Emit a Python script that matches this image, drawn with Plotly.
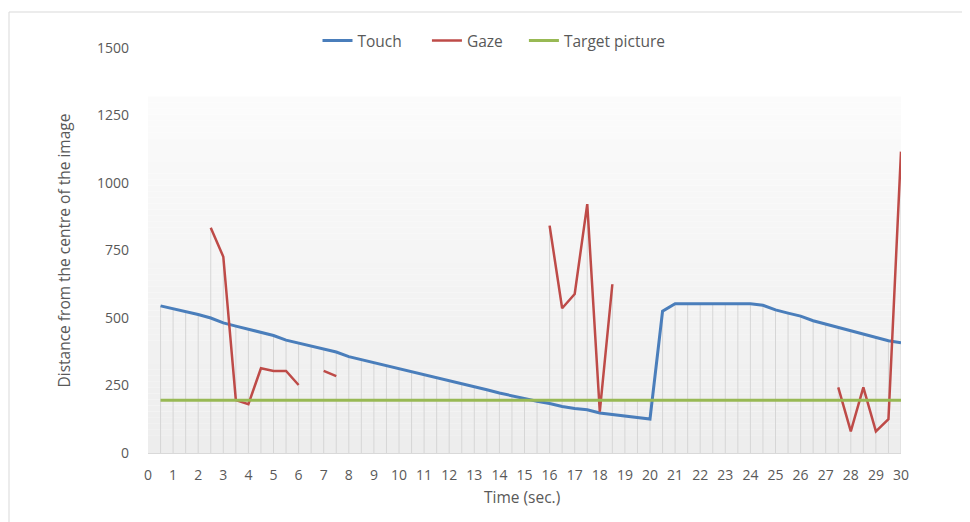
import plotly.graph_objects as go

time_s = [0.5, 1, 1.5, 2, 2.5, 3, 3.5, 4, 4.5, 5, 5.5, 6, 6.5, 7, 7.5, 8, 8.5, 9, 9.5, 10,
          10.5, 11, 11.5, 12, 12.5, 13, 13.5, 14, 14.5, 15, 15.5, 16, 16.5, 17, 17.5, 18, 18.5, 19, 19.5, 20,
          20.5, 21, 21.5, 22, 22.5, 23, 23.5, 24, 24.5, 25, 25.5, 26, 26.5, 27, 27.5, 28, 28.5, 29, 29.5, 30]

touch = [545, 535, 524, 513, 500, 482, 470, 458, 446, 435, 418, 407, 397, 386, 374, 357, 346, 335, 324, 313,
         302, 291, 279, 268, 257, 245, 234, 222, 212, 200, 192, 183, 172, 165, 160, 148, 142, 137, 130, 126,
         525, 553, 553, 553, 553, 553, 553, 553, 547, 530, 518, 507, 490, 478, 465, 453, 442, 430, 416, 408]

gaze = [None, None, None, None, 834, 727, 196, 181, 314, 304, 304, 252, None, 304, 285, None, None, None, None, None,
        None, None, None, None, None, None, None, None, None, None, None, 842, 536, 589, 922, 153, 625, None, None, None,
        None, None, None, None, None, None, None, None, None, None, None, None, None, None, 243, 80, 243, 80, 125, 1116]

target = [195] * 60

series_names = ["Touch", "Gaze", "Target picture"]
y_ticks = [0, 250, 500, 750, 1000, 1250, 1500]
x_ticks = list(range(0, 31))

BLUE = "#4a7ebb"
RED = "#be4b48"
GREEN = "#98b954"
TXT = "#595959"
FONT = "Open Sans"
NB = "\u00a0"

# page offset (body margin) compensation
OFF = 8
L, T = 148 - OFF, 48 - OFF
PW, PH = 753, 405

fig = go.Figure()

# drop lines (from the highest series value at each time down to the axis)
dx, dy = [], []
for i, t in enumerate(time_s):
    vals = [v for v in (touch[i], gaze[i], target[i]) if v is not None]
    dx += [t, t, None]
    dy += [0, max(vals), None]
fig.add_trace(go.Scatter(x=dx, y=dy, mode="lines", line=dict(color="#d6d6d6", width=1),
                         showlegend=False, hoverinfo="skip"))

fig.add_trace(go.Scatter(x=time_s, y=touch, name=series_names[0] + NB * 5, mode="lines",
                         line=dict(color=BLUE, width=3)))
fig.add_trace(go.Scatter(x=time_s, y=gaze, name=series_names[1] + NB * 4, mode="lines", connectgaps=False,
                         line=dict(color=RED, width=2.5)))
fig.add_trace(go.Scatter(x=time_s, y=target, name=series_names[2], mode="lines",
                         line=dict(color=GREEN, width=3)))

# gradient plot-area background
shapes = []
n = 60
top = 1320
for k in range(n):
    f = k / (n - 1)
    c0 = (237, 237, 237)
    c1 = (251, 251, 251)
    c = tuple(int(round(c0[j] + (c1[j] - c0[j]) * f)) for j in range(3))
    shapes.append(dict(type="rect", xref="x", yref="y", x0=0, x1=30,
                       y0=top * k / n, y1=top * (k + 1) / n,
                       fillcolor="rgb(%d,%d,%d)" % c, line=dict(width=0), layer="below"))
# outer chart border
shapes.append(dict(type="rect", xref="paper", yref="paper", x0=(9 - 148) / PW, x1=1.5,
                   y0=-0.5, y1=(453 - 12) / PH, line=dict(color="#d9d9d9", width=1),
                   fillcolor="rgba(0,0,0,0)", layer="below"))

fig.update_layout(
    width=970, height=522,
    margin=dict(l=L, r=970 - L - PW, t=T, b=522 - T - PH),
    paper_bgcolor="white", plot_bgcolor="white",
    font=dict(family=FONT, color=TXT, size=14),
    showlegend=True,
    legend=dict(orientation="h", x=(494 - 148) / PW, xanchor="center", y=1 + (48 - 41) / PH,
                yanchor="middle", font=dict(family=FONT, size=15.5, color=TXT),
                bgcolor="rgba(0,0,0,0)"),
    shapes=shapes,
    annotations=[
        dict(text="Distance from the centre of the image", xref="paper", yref="paper",
             x=(63 - 148) / PW, y=0.5, textangle=-90, showarrow=False,
             font=dict(family=FONT, size=15.5, color=TXT), xanchor="center", yanchor="middle"),
        dict(text="Time (sec.)", xref="paper", yref="paper",
             x=(522 - 148) / PW, y=-(497 - 453) / PH, showarrow=False,
             font=dict(family=FONT, size=15.5, color=TXT), xanchor="center", yanchor="middle"),
    ],
)

fig.update_xaxes(range=[0, 30], tickmode="array", tickvals=x_ticks, ticktext=[str(v) for v in x_ticks],
                 showgrid=False, zeroline=False, showline=True, linecolor="#d9d9d9", linewidth=1,
                 ticks="", ticklabelstandoff=9, tickfont=dict(family=FONT, size=14, color=TXT),
                 fixedrange=True)
fig.update_yaxes(range=[0, 1500], tickmode="array", tickvals=y_ticks, ticktext=[str(v) for v in y_ticks],
                 showgrid=False, zeroline=False, showline=False,
                 ticks="", ticklabelstandoff=18, tickfont=dict(family=FONT, size=14, color=TXT),
                 fixedrange=True)

fig.write_html("out.html")
